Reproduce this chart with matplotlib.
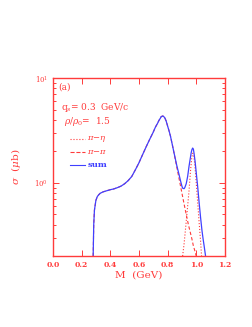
import matplotlib
matplotlib.use('Agg')
from matplotlib import pyplot as plt
from matplotlib.ticker import LogLocator, NullFormatter, MultipleLocator

m_sum = [0.281, 0.285, 0.29, 0.30, 0.31, 0.32, 0.33, 0.35, 0.375, 0.40, 0.425, 0.45,
         0.475, 0.50, 0.525, 0.55, 0.575, 0.60, 0.625, 0.65, 0.675, 0.70, 0.715,
         0.73, 0.74, 0.75, 0.755, 0.765, 0.77, 0.78, 0.79, 0.80, 0.81, 0.82, 0.835,
         0.85, 0.865, 0.88, 0.89, 0.90, 0.905, 0.915, 0.92, 0.93, 0.94, 0.95, 0.958,
         0.965, 0.97, 0.975, 0.98, 0.985, 0.992, 1.00, 1.01, 1.02, 1.03, 1.04, 1.048,
         1.055, 1.065]
s_sum = [0.2, 0.4, 0.55, 0.68, 0.74, 0.77, 0.795, 0.82, 0.84, 0.86, 0.875, 0.90,
         0.93, 0.98, 1.05, 1.15, 1.33, 1.55, 1.85, 2.2, 2.6, 3.05, 3.4,
         3.7, 3.95, 4.15, 4.28, 4.35, 4.33, 4.2, 3.9, 3.5, 3.15, 2.8, 2.25,
         1.8, 1.45, 1.2, 1.05, 0.93, 0.89, 0.88, 0.9, 0.98, 1.15, 1.45, 1.7,
         1.95, 2.08, 2.15, 2.1, 1.9, 1.6, 1.25, 0.92, 0.65, 0.47, 0.35, 0.29,
         0.25, 0.2]

m_pipi = [0.281, 0.285, 0.29, 0.30, 0.31, 0.32, 0.33, 0.35, 0.375, 0.40, 0.425, 0.45,
          0.475, 0.50, 0.525, 0.55, 0.575, 0.60, 0.625, 0.65, 0.675, 0.70, 0.715,
          0.73, 0.74, 0.75, 0.755, 0.765, 0.77, 0.78, 0.79, 0.80, 0.81, 0.82, 0.835,
          0.85, 0.865, 0.88, 0.90, 0.915, 0.93, 0.945, 0.96, 0.97, 0.98, 0.99, 1.0]
s_pipi = [0.2, 0.4, 0.55, 0.68, 0.74, 0.77, 0.795, 0.82, 0.84, 0.86, 0.875, 0.90,
          0.93, 0.98, 1.05, 1.15, 1.33, 1.55, 1.85, 2.2, 2.6, 3.05, 3.4,
          3.7, 3.95, 4.15, 4.28, 4.35, 4.33, 4.2, 3.9, 3.5, 3.15, 2.8, 2.25,
          1.78, 1.4, 1.1, 0.8, 0.63, 0.5, 0.4, 0.33, 0.29, 0.25, 0.225, 0.2]

m_pieta = [0.905, 0.915, 0.925, 0.94, 0.95, 0.96, 0.968, 0.975, 0.982, 0.99, 1.00,
           1.01, 1.02, 1.03, 1.037]
s_pieta = [0.2, 0.26, 0.36, 0.6, 0.85, 1.3, 1.7, 1.92, 1.85, 1.5, 1.0,
           0.65, 0.42, 0.28, 0.2]

red = '#ff3b3b'
blue = '#4040ff'
plt.rcParams['font.family'] = ['DejaVu Serif']
plt.rcParams['mathtext.fontset'] = 'dejavuserif'

fig = plt.figure(figsize=(2.53, 3.27), dpi=100)
ax = fig.add_axes([0.209, 0.217, 0.680, 0.544])
ax.set_yscale('log')
ax.plot(m_pieta, s_pieta, color=red, linestyle=':', linewidth=0.8)
ax.plot(m_pipi, s_pipi, color=red, linestyle='--', linewidth=0.8, dashes=(3, 2))
ax.plot(m_sum, s_sum, color=blue, linewidth=0.9)
plt.xlim(0.0, 1.2)
plt.ylim(0.2, 10)

for sp in ax.spines.values():
    sp.set_color(red)
    sp.set_linewidth(1.0)
ax.xaxis.set_major_locator(MultipleLocator(0.2))
ax.yaxis.set_major_locator(LogLocator(base=10, numticks=5))
ax.yaxis.set_minor_locator(LogLocator(base=10, subs=range(2, 10), numticks=5))
ax.yaxis.set_minor_formatter(NullFormatter())
ax.tick_params(which='both', direction='in', top=True, right=True, colors=red,
               labelsize=5.5, width=0.7)
ax.tick_params(which='major', length=4)
ax.tick_params(which='minor', length=2.5)
ax.set_xticklabels(['%.1f' % v for v in ax.get_xticks()], fontweight='bold')
for lab in ax.get_yticklabels():
    lab.set_fontsize(5)

ax.set_xlabel('M  (GeV)', color=red, fontsize=7.5, labelpad=1)
ax.set_ylabel(r'$\sigma$  ($\mu$b)', color=red, fontsize=7.5, labelpad=8)

ax.text(0.03, 0.935, '(a)', transform=ax.transAxes, color=red, fontsize=6.5)
ax.text(0.05, 0.82, r'q$_s$= 0.3  GeV/c', transform=ax.transAxes, color=red, fontsize=6.5)
ax.text(0.065, 0.74, r'$\rho/\rho_0$=  1.5', transform=ax.transAxes, color=red, fontsize=6.5)

# legend drawn by hand in axes coordinates
rows = [(0.66, ':', red, r'$\pi$$-$$\eta$'), (0.585, '--', red, r'$\pi$$-$$\pi$'),
        (0.51, '-', blue, 'sum')]
for yy, ls, col, lab in rows:
    ax.plot([0.10, 0.185], [yy, yy], transform=ax.transAxes, linestyle=ls,
            color=col, linewidth=0.8)
    ax.text(0.2, yy, lab, transform=ax.transAxes, color=col, fontsize=6,
            va='center', fontweight='bold')

plt.savefig('out.png', dpi=100)
